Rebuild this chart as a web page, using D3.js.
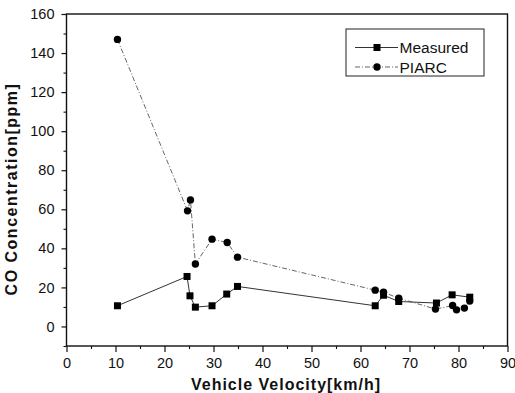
<!DOCTYPE html>
<html>
<head>
<meta charset="utf-8">
<script src="https://cdn.jsdelivr.net/npm/d3@7"></script>
<style>
  html, body { margin: 0; padding: 0; background: #fff; }
  svg { display: block; font-family: Arial, "Liberation Sans", Helvetica, sans-serif; }
</style>
</head>
<body>
<svg id="chart" width="515" height="393"></svg>
<script>
// Vehicle velocity [km/h] and CO concentration [ppm]
const measuredSpeed = [10.4, 24.6, 25.2, 26.3, 29.7, 32.7, 34.9, 63.0, 64.7, 67.8, 75.5, 78.7, 82.3];
const measuredCO    = [10.6, 25.6, 15.7,  9.9, 10.6, 16.6, 20.5, 10.6, 16.0, 12.8, 12.0, 16.2, 15.0];

const piarcSpeed = [10.4, 24.7, 25.3, 26.3, 29.7, 32.8, 34.9, 63.0, 64.7, 67.8, 75.3, 78.8, 79.6, 81.2, 82.3];
const piarcCO    = [147.0, 59.2, 64.8, 32.0, 44.7, 43.0, 35.5, 18.6, 17.5, 14.5, 8.9, 10.7, 8.5, 9.4, 13.0];

const xMajorTicks = [0, 10, 20, 30, 40, 50, 60, 70, 80, 90];
const xMinorTicks = [5, 15, 25, 35, 45, 55, 65, 75, 85];
const yMajorTicks = [0, 20, 40, 60, 80, 100, 120, 140, 160];
const yMinorTicks = [-10, 10, 30, 50, 70, 90, 110, 130, 150];

const seriesNames = ["Measured", "PIARC"];

const svg = d3.select("#chart");
const plotLeft = 66.5, plotRight = 507.5, plotTop = 14, plotBottom = 346;

const x = d3.scaleLinear().domain([0, 90]).range([plotLeft, plotRight]);
const y = d3.scaleLinear().domain([-10, 160]).range([plotBottom, plotTop]);

const measured = measuredSpeed.map((v, i) => ({ x: v, y: measuredCO[i] }));
const piarc = piarcSpeed.map((v, i) => ({ x: v, y: piarcCO[i] }));

// frame
svg.append("rect")
  .attr("x", plotLeft).attr("y", plotTop)
  .attr("width", plotRight - plotLeft).attr("height", plotBottom - plotTop)
  .attr("fill", "none").attr("stroke", "#111").attr("stroke-width", 1.4);

// bottom axis
const xAxis = svg.append("g").attr("transform", `translate(0,${plotBottom})`)
  .call(d3.axisBottom(x).tickValues(xMajorTicks).tickSize(6).tickPadding(6).tickFormat(d3.format("d")));
xAxis.select(".domain").remove();
xAxis.selectAll(".tick line").attr("stroke", "#111").attr("stroke-width", 1.2);
xAxis.selectAll(".tick text").attr("font-size", "14.5px").attr("fill", "#111")
  .attr("font-family", "Arial, 'Liberation Sans', sans-serif");

const xMinor = svg.append("g").attr("transform", `translate(0,${plotBottom})`)
  .call(d3.axisBottom(x).tickValues(xMinorTicks).tickSize(3).tickFormat(""));
xMinor.select(".domain").remove();
xMinor.selectAll(".tick line").attr("stroke", "#111").attr("stroke-width", 1.1);

// left axis
const yAxis = svg.append("g").attr("transform", `translate(${plotLeft},0)`)
  .call(d3.axisLeft(y).tickValues(yMajorTicks).tickSize(5).tickPadding(7).tickFormat(d3.format("d")));
yAxis.select(".domain").remove();
yAxis.selectAll(".tick line").attr("stroke", "#111").attr("stroke-width", 1.2);
yAxis.selectAll(".tick text").attr("font-size", "14.5px").attr("fill", "#111")
  .attr("font-family", "Arial, 'Liberation Sans', sans-serif");

const yMinor = svg.append("g").attr("transform", `translate(${plotLeft},0)`)
  .call(d3.axisLeft(y).tickValues(yMinorTicks).tickSize(3).tickFormat(""));
yMinor.select(".domain").remove();
yMinor.selectAll(".tick line").attr("stroke", "#111").attr("stroke-width", 1.1);

// axis titles
svg.append("text")
  .attr("x", 286).attr("y", 390)
  .attr("text-anchor", "middle")
  .attr("font-size", "16px").attr("font-weight", "bold")
  .attr("letter-spacing", "1px").attr("fill", "#111")
  .text("Vehicle Velocity[km/h]");

svg.append("text")
  .attr("transform", "translate(16.5,189) rotate(-90)")
  .attr("text-anchor", "middle")
  .attr("font-size", "16px").attr("font-weight", "bold")
  .attr("letter-spacing", "1.5px").attr("fill", "#111")
  .text("CO Concentration[ppm]");

// series lines
const line = d3.line().x(d => x(d.x)).y(d => y(d.y));

svg.append("path").datum(piarc)
  .attr("d", line).attr("fill", "none")
  .attr("stroke", "#666").attr("stroke-width", 1)
  .attr("stroke-dasharray", "5,2,1,2");

svg.append("path").datum(measured)
  .attr("d", line).attr("fill", "none")
  .attr("stroke", "#333").attr("stroke-width", 1);

// markers
const sq = 7;
svg.append("g").selectAll("rect").data(measured).join("rect")
  .attr("x", d => x(d.x) - sq / 2).attr("y", d => y(d.y) - sq / 2)
  .attr("width", sq).attr("height", sq).attr("fill", "#000");

svg.append("g").selectAll("circle").data(piarc).join("circle")
  .attr("cx", d => x(d.x)).attr("cy", d => y(d.y))
  .attr("r", 3.7).attr("fill", "#000");

// legend
const lg = svg.append("g");
lg.append("rect")
  .attr("x", 346).attr("y", 29).attr("width", 138).attr("height", 47)
  .attr("fill", "#fff").attr("stroke", "#222").attr("stroke-width", 1);

const legendRows = [
  { name: seriesNames[0], ly: 47.5, dash: null, stroke: "#333", marker: "square" },
  { name: seriesNames[1], ly: 67, dash: "5,2,1,2", stroke: "#666", marker: "circle" }
];
legendRows.forEach(r => {
  lg.append("line")
    .attr("x1", 355).attr("x2", 398).attr("y1", r.ly).attr("y2", r.ly)
    .attr("stroke", r.stroke).attr("stroke-width", 1)
    .attr("stroke-dasharray", r.dash);
  if (r.marker === "square") {
    lg.append("rect").attr("x", 377 - sq / 2).attr("y", r.ly - sq / 2)
      .attr("width", sq).attr("height", sq).attr("fill", "#000");
  } else {
    lg.append("circle").attr("cx", 377).attr("cy", r.ly).attr("r", 3.7).attr("fill", "#000");
  }
  lg.append("text")
    .attr("x", 399.5).attr("y", r.ly + 5.5)
    .attr("font-size", "15.5px").attr("fill", "#111")
    .text(r.name);
});
</script>
</body>
</html>
